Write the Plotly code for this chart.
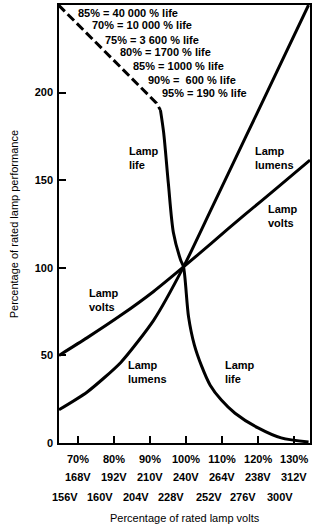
import plotly.graph_objects as go

# ---- data (x = % of rated lamp volts, y = % of rated performance)
volts_x = [64.75, 72.5, 82.0, 91.0, 99.3, 107.0, 116.4, 125.5, 134.4]
volts_y = [50, 60.0, 73.0, 86.5, 100.5, 114.0, 130.5, 146.0, 161.5]

lumens_x = [64.75, 72.5, 81.9, 91.0, 99.3, 107.0, 116.4, 122.8, 134.0]
lumens_y = [19, 29.0, 46.0, 70.0, 100.5, 133.5, 174, 201.5, 250]

life_dash_x = [64.6, 91.8, 92.9]
life_dash_y = [250, 194, 190]

life_x = [92.9, 93.8, 95.1, 96.5, 98.5, 99.3, 100.7, 102.3, 104.3, 106.7, 109.8, 113.6, 120.0, 126.4, 134.0]
life_y = [190, 177, 148, 120, 104.5, 100.5, 72, 56, 44, 33, 24.5, 17, 8.6, 2.9, 0.6]

x_tick_vals = [70, 80, 90, 100, 110, 120, 130]
x_tick_pct = ["70%", "80%", "90%", "100%", "110%", "120%", "130%"]
x_tick_volts = ["168V", "192V", "210V", "240V", "264V", "238V", "312V"]
x_row3_pos = [66.3, 76.2, 86.2, 95.8, 106.3, 115.8, 126.0]
x_row3_volts = ["156V", "160V", "204V", "228V", "252V", "276V", "300V"]
y_tick_vals = [0, 50, 100, 150, 200, 250]

life_notes = ["85% = 40 000 % life", "70% = 10 000 % life", "75% = 3 600 % life",
              "80% = 1700 % life", "85% = 1000 % life", "90% =  600 % life",
              "95% = 190 % life"]
life_notes_x = [69.45, 73.3, 76.9, 81.05, 84.6, 88.8, 92.9]
life_notes_y = [245.4, 238.6, 230.0, 223.2, 215.2, 207.2, 199.8]

curve_labels = ["Lamp<br>life", "Lamp<br>lumens", "Lamp<br>volts",
                "Lamp<br>volts", "Lamp<br>lumens", "Lamp<br>life"]
curve_labels_x = [83.5, 118.6, 122.2, 72.5, 83.3, 110.3]
curve_labels_y = [162.7, 162.7, 129.6, 81.6, 40.5, 40.5]

FONT = "Liberation Sans, Arial, sans-serif"
LW = 3
B = lambda s: f"<b>{s}</b>"

fig = go.Figure()
line = dict(color="black", width=LW)
fig.add_trace(go.Scatter(x=volts_x, y=volts_y, mode="lines", line=dict(shape="spline", smoothing=0.6, **line)))
fig.add_trace(go.Scatter(x=lumens_x, y=lumens_y, mode="lines", line=dict(shape="spline", smoothing=0.6, **line)))
fig.add_trace(go.Scatter(x=life_x, y=life_y, mode="lines", line=dict(shape="spline", smoothing=0.8, **line)))
fig.add_trace(go.Scatter(x=life_dash_x, y=life_dash_y, mode="lines",
                         line=dict(color="black", width=LW, dash="9px,4px")))

ann = []
for t, x, y in zip(life_notes, life_notes_x, life_notes_y):
    ann.append(dict(x=x, y=y, xref="x", yref="y", text=B(t), showarrow=False,
                    xanchor="left", yanchor="middle"))
for t, x, y in zip(curve_labels, curve_labels_x, curve_labels_y):
    ann.append(dict(x=x, y=y, xref="x", yref="y", text=B(t), showarrow=False,
                    xanchor="left", yanchor="middle", align="left"))
for t, x in zip(x_tick_volts, x_tick_vals):
    ann.append(dict(x=x, y=-0.0776, xref="x", yref="paper", text=B(t), showarrow=False,
                    xanchor="center", yanchor="middle"))
for t, x in zip(x_row3_volts, x_row3_pos):
    ann.append(dict(x=x, y=-0.1233, xref="x", yref="paper", text=B(t), showarrow=False,
                    xanchor="center", yanchor="middle"))
ann.append(dict(x=0.5, y=-0.171, xref="paper", yref="paper",
                text="Percentage of rated lamp volts", showarrow=False,
                xanchor="center", yanchor="middle"))
ann.append(dict(x=-0.178, y=0.5, xref="paper", yref="paper",
                text="Percentage of rated lamp performance", showarrow=False,
                textangle=-90, xanchor="center", yanchor="middle"))

fig.update_layout(
    width=315, height=525,
    margin=dict(l=59, r=3, t=5, b=82),
    paper_bgcolor="white", plot_bgcolor="white",
    showlegend=False,
    font=dict(family=FONT, size=11, color="black"),
    annotations=ann,
    xaxis=dict(range=[64.75, 134.4], tickvals=x_tick_vals, ticktext=[B(t) for t in x_tick_pct],
               ticks="inside", ticklen=7, tickwidth=1.5, tickcolor="black",
               showline=True, linecolor="black", linewidth=1.5, mirror=True,
               showgrid=False, zeroline=False, fixedrange=True,
               ticklabelstandoff=5, tickfont=dict(size=11)),
    yaxis=dict(range=[0, 250], tickvals=y_tick_vals, ticktext=[B(v) for v in y_tick_vals],
               ticks="inside", ticklen=7, tickwidth=1.5, tickcolor="black",
               showline=True, linecolor="black", linewidth=1.5, mirror=True,
               showgrid=False, zeroline=False, fixedrange=True,
               ticklabelstandoff=2, tickfont=dict(size=11)),
)

fig.write_html("out.html")
